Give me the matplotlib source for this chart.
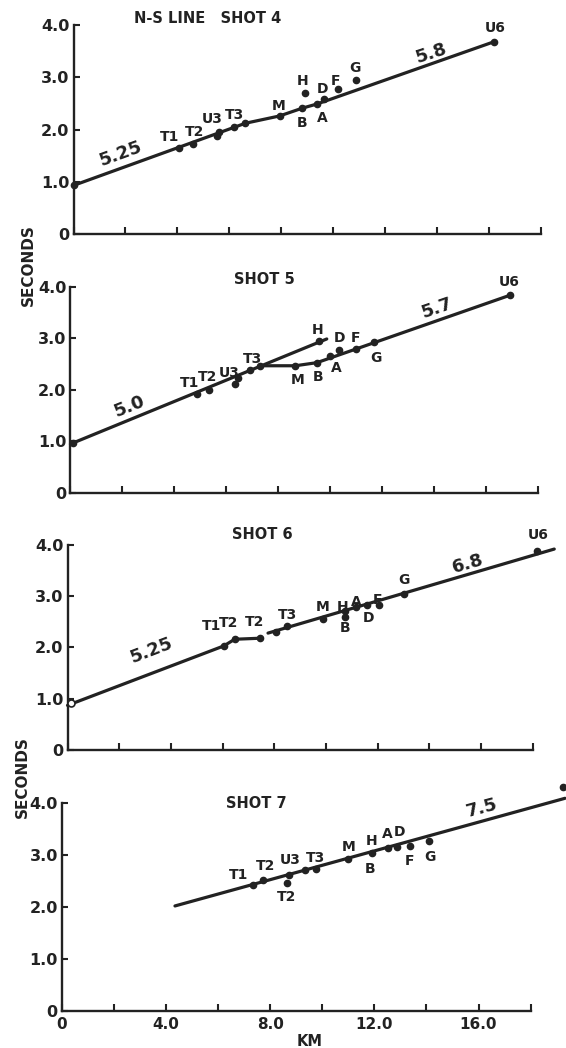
import matplotlib
matplotlib.use("Agg")
import matplotlib.pyplot as plt

INK = "#222222"
FONT = "DejaVu Sans"

# ---- travel-time data (km, seconds) ----
# shot 4
shot4_lines = [
    ([0.0, 6.62, 7.94, 8.82, 9.39, 16.2], [0.93, 2.12, 2.26, 2.41, 2.49, 3.68]),
]
shot4_pts_km = [0.0, 4.07, 4.60, 5.54, 5.61, 6.17, 6.62, 7.94, 8.82, 9.37, 9.64, 8.91, 10.19, 10.9, 16.2]
shot4_pts_s = [0.93, 1.64, 1.72, 1.87, 1.96, 2.05, 2.13, 2.26, 2.41, 2.49, 2.58, 2.69, 2.77, 2.95, 3.68]
shot4_labels = [("T1", 3.69, 1.86), ("T2", 4.67, 1.96), ("U3", 5.36, 2.21), ("T3", 6.2, 2.28),
                ("M", 7.91, 2.45), ("H", 8.82, 2.93), ("D", 9.58, 2.77), ("F", 10.1, 2.92),
                ("G", 10.86, 3.17), ("B", 8.82, 2.13), ("A", 9.58, 2.23), ("U6", 16.23, 3.94)]
shot4_speeds = [("5.25", 1.81, 1.54, 20), ("5.8", 13.79, 3.46, 18)]
shot4_title = ("N-S LINE   SHOT 4", 5.18, 4.13)

# shot 5
shot5_lines = [
    ([0.0, 9.87], [0.95, 2.99]),
    ([7.3, 8.66, 9.49, 16.93], [2.47, 2.47, 2.53, 3.84]),
]
shot5_pts_km = [0.1, 4.87, 5.35, 6.32, 6.46, 6.91, 7.3, 8.66, 9.49, 10.0, 10.36, 10.98, 11.68, 9.59, 16.93]
shot5_pts_s = [0.97, 1.92, 2.0, 2.12, 2.23, 2.39, 2.47, 2.47, 2.53, 2.66, 2.78, 2.79, 2.94, 2.95, 3.84]
shot5_labels = [("T1", 4.59, 2.13), ("T2", 5.28, 2.26), ("U3", 6.12, 2.32), ("T3", 7.0, 2.6),
                ("H", 9.53, 3.17), ("D", 10.36, 3.0), ("F", 10.98, 3.0), ("G", 11.75, 2.63),
                ("M", 8.76, 2.19), ("B", 9.53, 2.26), ("A", 10.22, 2.42), ("U6", 16.89, 4.10)]
shot5_speeds = [("5.0", 2.29, 1.68, 22), ("5.7", 14.11, 3.59, 19)]
shot5_title = ("SHOT 5", 7.47, 4.14)

# shot 6
shot6_lines = [
    ([0.0, 6.05, 6.47, 7.45], [0.87, 2.03, 2.16, 2.18]),
    ([7.76, 18.84], [2.28, 3.92]),
]
shot6_pts_km = [6.05, 6.47, 7.45, 8.08, 8.5, 9.89, 10.73, 10.73, 11.15, 11.61, 12.06, 13.01, 18.18]
shot6_pts_s = [2.03, 2.16, 2.18, 2.31, 2.42, 2.56, 2.72, 2.60, 2.78, 2.82, 2.83, 3.04, 3.89]
shot6_open_km = [0.14]
shot6_open_s = [0.91]
shot6_labels = [("T1", 5.56, 2.41), ("T2", 6.23, 2.47), ("T2", 7.24, 2.50), ("T3", 8.5, 2.63),
                ("M", 9.87, 2.78), ("H", 10.66, 2.78), ("A", 11.19, 2.89), ("F", 11.99, 2.93),
                ("G", 13.01, 3.32), ("B", 10.73, 2.37), ("D", 11.64, 2.57), ("U6", 18.21, 4.20)]
shot6_speeds = [("5.25", 3.26, 1.95, 21), ("6.8", 15.48, 3.64, 16)]
shot6_title = ("SHOT 6", 7.55, 4.21)

# shot 7
shot7_lines = [
    ([4.34, 19.32], [2.02, 4.09]),
]
shot7_pts_km = [7.32, 7.71, 8.64, 8.71, 9.33, 9.75, 11.0, 11.9, 12.52, 12.87, 13.36, 14.09, 19.25]
shot7_pts_s = [2.42, 2.52, 2.47, 2.61, 2.72, 2.74, 2.92, 3.04, 3.13, 3.16, 3.17, 3.26, 4.30]
shot7_labels = [("T1", 6.77, 2.62), ("T2", 7.81, 2.79), ("U3", 8.78, 2.90), ("T3", 9.75, 2.94),
                ("M", 11.0, 3.16), ("H", 11.9, 3.26), ("A", 12.5, 3.40), ("D", 12.98, 3.45),
                ("B", 11.83, 2.74), ("F", 13.36, 2.88), ("G", 14.13, 2.96), ("T2", 8.64, 2.20)]
shot7_speeds = [("7.5", 16.13, 3.90, 15)]
shot7_title = ("SHOT 7", 7.46, 3.99)

x_ticks = [0, 2, 4, 6, 8, 10, 12, 14, 16, 18]
x_ticklabels = ["0", "", "4.0", "", "8.0", "", "12.0", "", "16.0", ""]
y_ticks = [0, 1, 2, 3, 4]
y_ticklabels = ["0", "1.0", "2.0", "3.0", "4.0"]

# axes boxes in figure fractions, one per panel (hand-drawn panels are not aligned)
panel_boxes = [
    [0.1299, 0.7767, 0.8254, 0.1994],
    [0.1244, 0.5296, 0.8260, 0.1966],
    [0.1193, 0.2844, 0.8216, 0.1956],
    [0.1095, 0.0353, 0.8280, 0.1985],
]


def draw_panel(ax, lines, pts_km, pts_s, labels, speeds, title, bottom=False):
    for xs, ys in lines:
        ax.plot(xs, ys, color=INK, lw=2.3, solid_capstyle="round", clip_on=False, zorder=3)
    ax.plot(pts_km, pts_s, "o", ms=4.5, color=INK, clip_on=False, zorder=4)

    for txt, x, y in labels:
        ax.text(x, y, txt, ha="center", va="center", fontsize=10, fontweight="bold",
                family=FONT, color=INK, clip_on=False)
    for txt, x, y, rot in speeds:
        ax.text(x, y, txt, ha="center", va="center", fontsize=13, fontweight="bold",
                family=FONT, color=INK, rotation=rot, rotation_mode="anchor", clip_on=False)
    ax.text(title[1], title[2], title[0], ha="center", va="center", fontsize=10.5,
            fontweight="bold", family=FONT, color=INK, clip_on=False)

    ax.set_xlim(0, 18)
    ax.set_ylim(0, 4)
    for side in ("top", "right"):
        ax.spines[side].set_visible(False)
    for side in ("left", "bottom"):
        ax.spines[side].set_linewidth(1.7)
        ax.spines[side].set_color(INK)

    ax.set_xticks(x_ticks)
    ax.set_yticks(y_ticks)
    ax.set_yticklabels(y_ticklabels, fontsize=11.5, fontweight="bold", family=FONT, color=INK)
    if bottom:
        ax.set_xticklabels(x_ticklabels, fontsize=11, fontweight="bold", family=FONT, color=INK)
    else:
        ax.set_xticklabels([])
    ax.tick_params(axis="x", direction="in", length=5, width=1.5, color=INK, pad=4)
    ax.tick_params(axis="y", direction="in", length=4, width=1.5, color=INK, pad=3)
    ax.patch.set_alpha(0)


fig = plt.figure(figsize=(5.66, 10.48), dpi=100)
fig.patch.set_facecolor("white")

ax4 = fig.add_axes(panel_boxes[0])
draw_panel(ax4, shot4_lines, shot4_pts_km, shot4_pts_s, shot4_labels, shot4_speeds, shot4_title)

ax5 = fig.add_axes(panel_boxes[1])
draw_panel(ax5, shot5_lines, shot5_pts_km, shot5_pts_s, shot5_labels, shot5_speeds, shot5_title)

ax6 = fig.add_axes(panel_boxes[2])
draw_panel(ax6, shot6_lines, shot6_pts_km, shot6_pts_s, shot6_labels, shot6_speeds, shot6_title)
ax6.plot(shot6_open_km, shot6_open_s, "o", ms=5, mfc="white", mec=INK, mew=1.2, clip_on=False, zorder=5)

ax7 = fig.add_axes(panel_boxes[3])
draw_panel(ax7, shot7_lines, shot7_pts_km, shot7_pts_s, shot7_labels, shot7_speeds, shot7_title,
           bottom=True)
ax7.text(9.5, -0.59, "KM", ha="center", va="center", fontsize=10.5, fontweight="bold",
         family=FONT, color=INK, clip_on=False)

# shared y labels, each spanning a pair of panels
fig.text(28 / 566, 1 - 265 / 1048, "SECONDS", rotation=90, ha="center", va="center",
         fontsize=11, fontweight="bold", family=FONT, color=INK)
fig.text(22 / 566, 1 - 777 / 1048, "SECONDS", rotation=90, ha="center", va="center",
         fontsize=11, fontweight="bold", family=FONT, color=INK)

fig.savefig("out.png", dpi=100)
